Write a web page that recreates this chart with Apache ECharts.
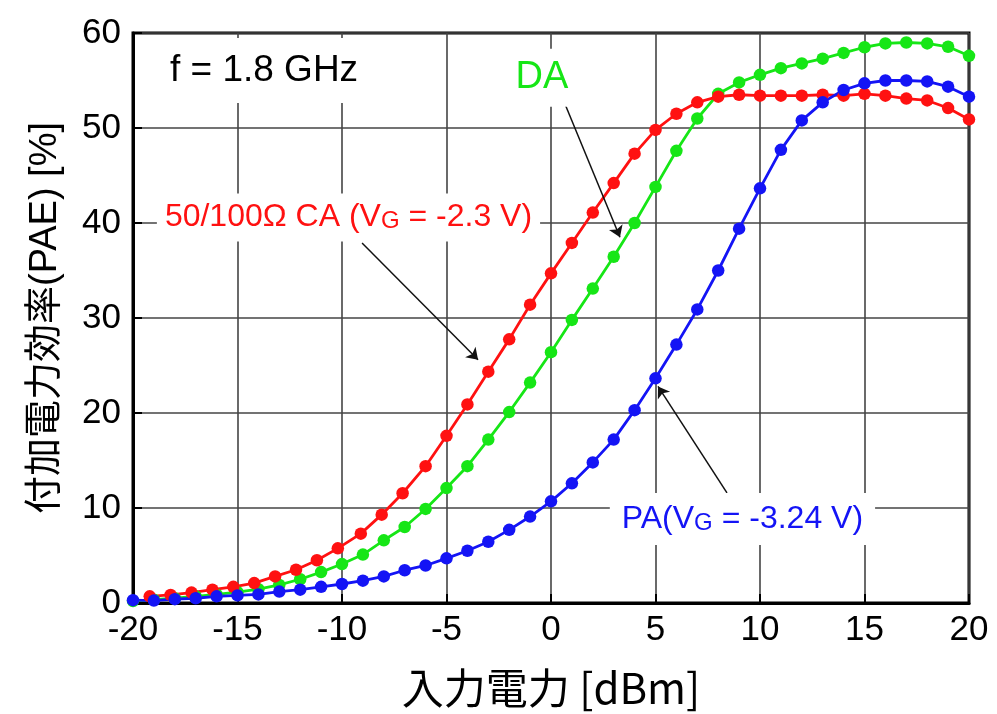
<!DOCTYPE html>
<html>
<head>
<meta charset="utf-8">
<script src="https://cdn.jsdelivr.net/npm/echarts@6/dist/echarts.min.js"></script>
<style>
  html, body { margin: 0; padding: 0; background: #ffffff; }
  #chart { width: 997px; height: 714px; }
</style>
</head>
<body>
<div id="chart"></div>
<script>
// Input power sweep [dBm] shared by the DA and PA curves
const inputPower = [-20, -19, -18, -17, -16, -15, -14, -13, -12, -11, -10, -9, -8, -7, -6, -5, -4, -3, -2, -1,
  0, 1, 2, 3, 4, 5, 6, 7, 8, 9, 10, 11, 12, 13, 14, 15, 16, 17, 18, 19, 20];

// DA power-added efficiency [%]
const paeDA = [0.2, 0.35, 0.5, 0.7, 0.9, 1.15, 1.45, 1.9, 2.5, 3.25, 4.1, 5.1, 6.6, 8.0, 9.9, 12.1, 14.4, 17.2, 20.1, 23.2,
  26.4, 29.8, 33.1, 36.45, 40.0, 43.8, 47.6, 51.0, 53.6, 54.8, 55.6, 56.3, 56.8, 57.3, 57.9, 58.5, 58.9, 59.0, 58.9, 58.55, 57.6];

// PA power-added efficiency [%]
const paePA = [0.3, 0.25, 0.4, 0.5, 0.7, 0.8, 0.9, 1.2, 1.4, 1.7, 2.0, 2.35, 2.8, 3.45, 3.95, 4.7, 5.5, 6.45, 7.7, 9.1,
  10.7, 12.6, 14.8, 17.2, 20.3, 23.65, 27.2, 30.9, 35.0, 39.4, 43.65, 47.7, 50.8, 52.7, 54.0, 54.7, 55.0, 55.0, 54.9, 54.35, 53.3];

// 50/100 ohm CA sweep (its own input power points) and efficiency [%]
const caInputPower = [-19.2, -18.2, -17.2, -16.2, -15.2, -14.2, -13.2, -12.2, -11.2, -10.2, -9.1, -8.1, -7.1, -6, -5, -4, -3, -2, -1,
  0, 1, 2, 3, 4, 5, 6, 7, 8, 9, 10, 11, 12, 13, 14, 15, 16, 17, 18, 19, 20];
const paeCA = [0.7, 0.85, 1.1, 1.4, 1.7, 2.1, 2.8, 3.5, 4.5, 5.75, 7.3, 9.3, 11.55, 14.4, 17.6, 20.9, 24.35, 27.75, 31.4,
  34.7, 37.9, 41.1, 44.2, 47.3, 49.8, 51.5, 52.7, 53.3, 53.5, 53.4, 53.4, 53.4, 53.5, 53.4, 53.6, 53.4, 53.1, 52.9, 52.1, 50.9];

// Axis ranges and tick spacing
const xRange = [-20, 20, 5];
const yRange = [0, 60, 10];

const zip = (xs, ys) => xs.map((x, i) => [x, ys[i]]);

const COLOR_DA = '#16e616';
const COLOR_CA = '#ff1111';
const COLOR_PA = '#1414f5';
const LATIN = "'Liberation Sans', Arial, sans-serif";
const NARROW = "'Liberation Sans Narrow', 'Liberation Sans', Arial, sans-serif";
const JP = "'Liberation Sans', 'Noto Sans CJK JP', sans-serif";
const JP_NARROW = "'Liberation Sans Narrow', 'Noto Sans CJK JP', sans-serif";

const chart = echarts.init(document.getElementById('chart'), null, { renderer: 'canvas' });

function curve(name, data, color, arrow) {
  const s = {
    name: name,
    type: 'line',
    data: data,
    symbol: 'circle',
    symbolSize: 12.5,
    showSymbol: true,
    lineStyle: { color: color, width: 2.8 },
    itemStyle: { color: color },
    animation: false,
    z: 3
  };
  if (arrow) {
    s.markLine = {
      silent: true,
      animation: false,
      symbol: ['none', 'arrow'],
      symbolSize: 11,
      label: { show: false },
      lineStyle: { color: '#111', width: 1.5, type: 'solid' },
      data: [[{ coord: arrow[0] }, { coord: arrow[1] }]]
    };
  }
  return s;
}

chart.setOption({
  backgroundColor: '#ffffff',
  animation: false,
  grid: {
    left: 133, right: 28, top: 33, bottom: 111,
    show: true, borderColor: '#000', borderWidth: 3, backgroundColor: 'transparent'
  },
  xAxis: {
    type: 'value',
    min: xRange[0], max: xRange[1], interval: xRange[2],
    name: '入力電力 [dBm]',
    nameLocation: 'middle',
    nameGap: 64,
    nameTextStyle: { fontSize: 42, color: '#000', fontFamily: JP_NARROW },
    axisLine: { show: true, onZero: false, lineStyle: { color: '#000', width: 3 } },
    axisTick: { show: true, inside: true, length: 9, lineStyle: { color: '#000', width: 2 } },
    axisLabel: { fontSize: 35, color: '#000', fontFamily: NARROW, margin: 10 },
    splitLine: { show: true, lineStyle: { color: '#444', width: 1.6 } }
  },
  yAxis: {
    type: 'value',
    min: yRange[0], max: yRange[1], interval: yRange[2],
    name: '付加電力効率(PAE) [%]',
    nameLocation: 'middle',
    nameGap: 68,
    nameTextStyle: { fontSize: 38, color: '#000', fontFamily: JP },
    axisLine: { show: true, onZero: false, lineStyle: { color: '#000', width: 3 } },
    axisTick: { show: true, inside: true, length: 9, lineStyle: { color: '#000', width: 2 } },
    axisLabel: { fontSize: 35, color: '#000', fontFamily: LATIN, margin: 12 },
    splitLine: { show: true, lineStyle: { color: '#444', width: 1.6 } }
  },
  series: [
    curve('DA', zip(inputPower, paeDA), COLOR_DA, [[0.57, 53.05], [3.3, 38.5]]),
    curve('50/100Ω CA', zip(caInputPower, paeCA), COLOR_CA, [[-9.04, 37.9], [-3.49, 25.6]]),
    curve('PA', zip(inputPower, paePA), COLOR_PA, [[8.42, 11.6], [5.12, 22.8]])
  ]
});

// Text annotations placed in data coordinates, each on a white box that masks the grid
function note(at, text, color, size, padding, rich) {
  const p = chart.convertToPixel({ gridIndex: 0 }, at);
  return {
    type: 'text',
    x: p[0], y: p[1],
    z: 10,
    style: {
      text: text,
      fill: color,
      fontSize: size,
      fontFamily: LATIN,
      align: 'center',
      verticalAlign: 'middle',
      backgroundColor: '#ffffff',
      padding: padding,
      rich: rich || {}
    }
  };
}

const sub = (color) => ({ g: { fontSize: 24, fill: color, fontFamily: LATIN, verticalAlign: 'bottom' } });

chart.setOption({
  graphic: [
    note([-13.73, 56.05], 'f = 1.8 GHz', '#000', 37, [14, 10, 14, 10]),
    note([-0.43, 55.3], 'DA', COLOR_DA, 38, [10, 10, 10, 10]),
    note([-9.69, 40.58], '50/100Ω CA (V{g|G} = -2.3 V)', COLOR_CA, 32, [8, 8, 8, 8], sub(COLOR_CA)),
    note([9.16, 8.84], 'PA(V{g|G} = -3.24 V)', COLOR_PA, 32, [10, 12, 10, 12], sub(COLOR_PA))
  ]
});
</script>
</body>
</html>
